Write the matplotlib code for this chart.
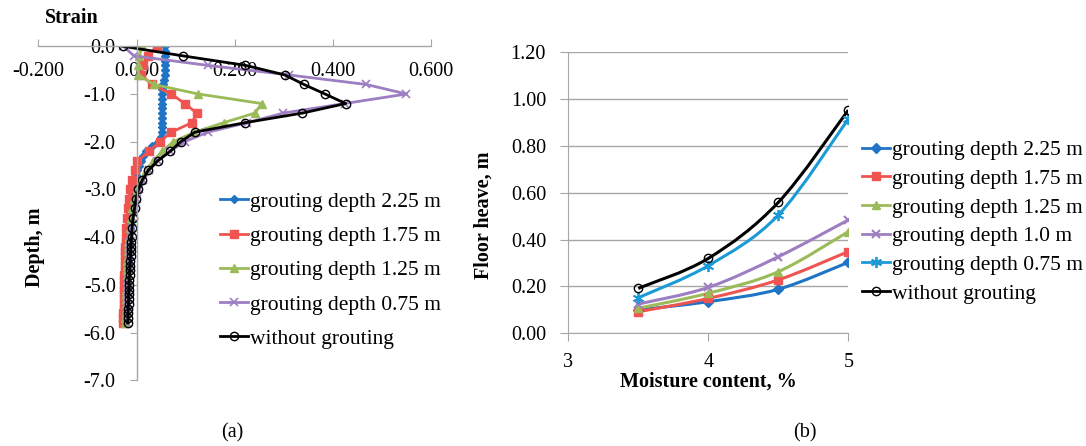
import numpy as np
import matplotlib.pyplot as plt
from matplotlib.path import Path
from matplotlib.patches import PathPatch
from matplotlib.lines import Line2D

plt.rcParams['font.family'] = ['Liberation Serif', 'DejaVu Serif']
plt.rcParams['font.size'] = 14.5

# ---- (a) strain profiles vs depth ----
depth = [0.0, -0.2, -0.4, -0.6, -0.8, -1.0, -1.2, -1.4, -1.6, -1.8, -2.0,
         -2.2, -2.4, -2.6, -2.8, -3.0, -3.2, -3.4, -3.6, -3.8, -4.0,
         -4.1, -4.2, -4.3, -4.4, -4.5, -4.6, -4.7, -4.8, -4.9, -5.0,
         -5.1, -5.2, -5.3, -5.4, -5.5, -5.6, -5.7, -5.8]
depth_fine = [round(-0.1 * i, 1) for i in range(59)]

strain_225 = [0.058, 0.058, 0.058, 0.058, 0.058, 0.058, 0.058, 0.056, 0.054,
              0.052, 0.052, 0.052, 0.052, 0.052, 0.052, 0.052, 0.052, 0.052, 0.052,
              0.049, 0.043, 0.031, 0.020, 0.014, 0.009, 0.005, 0.001, -0.002,
              -0.005, -0.007, -0.009,
              -0.010, -0.011, -0.011, -0.012, -0.012, -0.013, -0.013, -0.014,
              -0.014, -0.015, -0.015, -0.016, -0.016, -0.017, -0.017, -0.018,
              -0.018, -0.019, -0.019, -0.020, -0.020, -0.021, -0.021, -0.022,
              -0.022, -0.023, -0.023, -0.024]
strain_175 = [0.041, 0.024, 0.013, 0.010, 0.031, 0.071, 0.098, 0.123, 0.113,
              0.071, 0.047, 0.026, 0.002, -0.004, -0.010, -0.013, -0.016,
              -0.018, -0.020, -0.021, -0.022,
              -0.022, -0.023, -0.023, -0.023, -0.024, -0.024, -0.024, -0.025,
              -0.025, -0.025, -0.025, -0.026, -0.026, -0.026, -0.026, -0.027,
              -0.027, -0.027]
strain_125 = [0.011, 0.006, 0.003, 0.004, 0.035, 0.126, 0.255, 0.241, 0.178,
              0.118, 0.075, 0.052, 0.034, 0.020, 0.009, 0.001, -0.005, -0.009,
              -0.012, -0.014, -0.016,
              -0.017, -0.017, -0.018, -0.018, -0.019, -0.019, -0.019, -0.020,
              -0.020, -0.020, -0.021, -0.021, -0.021, -0.022, -0.022, -0.022,
              -0.023, -0.023]
strain_075 = [-0.027, -0.005, 0.145, 0.310, 0.468, 0.550, 0.424, 0.299, 0.226,
              0.145, 0.098, 0.068, 0.044, 0.026, 0.014, 0.006, 0.000, -0.004,
              -0.007, -0.010, -0.012,
              -0.013, -0.013, -0.014, -0.014, -0.015, -0.015, -0.016, -0.016,
              -0.017, -0.017, -0.017, -0.018, -0.018, -0.018, -0.019, -0.019,
              -0.019, -0.020]
strain_none = [-0.027, 0.094, 0.222, 0.302, 0.341, 0.384, 0.426, 0.338, 0.222,
               0.119, 0.090, 0.069, 0.043, 0.024, 0.012, 0.004, -0.001, -0.004,
               -0.007, -0.009, -0.010,
               -0.011, -0.011, -0.012, -0.012, -0.013, -0.013, -0.014, -0.014,
               -0.015, -0.015, -0.015, -0.016, -0.016, -0.016, -0.017, -0.017,
               -0.017, -0.018]

# ---- (b) floor heave vs moisture content ----
moisture = [3.5, 4.0, 4.5, 5.0]
heave_225 = [0.100, 0.135, 0.188, 0.303]
heave_175 = [0.092, 0.149, 0.228, 0.349]
heave_125 = [0.107, 0.171, 0.263, 0.434]
heave_100 = [0.125, 0.196, 0.327, 0.484]
heave_075 = [0.152, 0.289, 0.505, 0.915]
heave_none = [0.192, 0.320, 0.559, 0.953]

c_blue = '#1f74c6'
c_red = '#ef5450'
c_green = '#9bbb59'
c_purple = '#9d7ec2'
c_teal = '#1b9ad6'
c_black = '#000000'
c_axis = '#a6a6a6'

fig = plt.figure(figsize=(10.86, 4.46), dpi=100)

# panel (a)
ax1 = fig.add_axes([0.0353, 0.1475, 0.3616, 0.7487])
ax1.plot(strain_225, depth_fine, color=c_blue, lw=2, marker='D', ms=4,
         label='grouting depth 2.25 m')
ax1.plot(strain_175, depth, color=c_red, lw=2, marker='s', ms=6,
         label='grouting depth 1.75 m')
ax1.plot(strain_125, depth, color=c_green, lw=2, marker='^', ms=6,
         label='grouting depth 1.25 m')
ax1.plot(strain_075, depth, color=c_purple, lw=2, marker='x', ms=6, mew=1.2,
         label='grouting depth 0.75 m')
ax1.plot(strain_none, depth, color=c_black, lw=2, marker='o', ms=6,
         mfc='none', mew=1, label='without grouting')

ax1.set_xlim(-0.2, 0.6)
ax1.set_ylim(-7.0, 0.0)
ax1.spines['top'].set_visible(False)
ax1.spines['right'].set_visible(False)
ax1.spines['bottom'].set_position(('data', 0))
ax1.spines['left'].set_position(('data', 0))
for s in ('bottom', 'left'):
    ax1.spines[s].set_color(c_axis)
    ax1.spines[s].set_linewidth(1)
ax1.set_xticks([-0.2, 0.0, 0.2, 0.4, 0.6])
ax1.set_xticklabels(['-0.200', '0.000', '0.200', '0.400', '0.600'])
yt = np.arange(0, -7.5, -1.0)
ax1.set_yticks(yt)
ax1.set_yticklabels(['0.0'] + ['%.1f' % v for v in yt[1:]])
ax1.tick_params(axis='x', direction='in', length=5, color=c_axis, pad=11)
ax1.tick_params(axis='y', direction='out', length=5, color=c_axis, pad=10)
ax1.patch.set_visible(False)

ax1.legend(loc='upper left', bbox_to_anchor=(0.44, 0.59), frameon=False,
           handlelength=1.3, handletextpad=0.1, labelspacing=0.66,
           borderaxespad=0, fontsize=15.5)

fig.text(0.066, 0.96, 'Strain', fontweight='bold', ha='center', va='center',
         fontsize=14.5)
fig.text(0.032, 0.445, 'Depth, m', fontweight='bold', rotation=90,
         ha='center', va='center', fontsize=14.5)
fig.text(0.214, 0.03, '(a)', ha='center', va='center', fontsize=14.5)

# panel (b)
ax2 = fig.add_axes([0.5233, 0.2527, 0.2578, 0.630])


def smooth_path(xs, ys, t=1.0 / 6):
    # Catmull-Rom style bezier through the points
    xs = np.asarray(xs, float)
    ys = np.asarray(ys, float)
    n = len(xs)
    verts = [(xs[0], ys[0])]
    codes = [Path.MOVETO]
    for i in range(n - 1):
        p0 = np.array([xs[max(i - 1, 0)], ys[max(i - 1, 0)]])
        p1 = np.array([xs[i], ys[i]])
        p2 = np.array([xs[i + 1], ys[i + 1]])
        p3 = np.array([xs[min(i + 2, n - 1)], ys[min(i + 2, n - 1)]])
        c1 = p1 + (p2 - p0) * t
        c2 = p2 - (p3 - p1) * t
        verts += [tuple(c1), tuple(c2), tuple(p2)]
        codes += [Path.CURVE4] * 3
    return Path(verts, codes)


series_b = [
    (heave_225, c_blue, 'D', 5, 'grouting depth 2.25 m', {}),
    (heave_175, c_red, 's', 6, 'grouting depth 1.75 m', {}),
    (heave_125, c_green, '^', 6, 'grouting depth 1.25 m', {}),
    (heave_100, c_purple, 'x', 6, 'grouting depth 1.0 m', {'mew': 1.5}),
    (heave_075, c_teal, (6, 2, 0), 8, 'grouting depth 0.75 m', {'mew': 1.3}),
    (heave_none, c_black, 'o', 6, 'without grouting', {'mfc': 'none', 'mew': 1}),
]
handles = []
for vals, col, mk, ms, lab, kw in series_b:
    patch = PathPatch(smooth_path(moisture, vals), fc='none', ec=col, lw=2.2,
                      transform=ax2.transData, zorder=3)
    ax2.add_patch(patch)
    ax2.plot(moisture, vals, ls='none', color=col, marker=mk, ms=ms, zorder=4, **kw)
    handles.append(Line2D([], [], color=col, lw=2, marker=mk, ms=ms, label=lab, **kw))

ax2.set_xlim(3, 5)
ax2.set_ylim(0, 1.2)
ax2.set_xticks([3, 4, 5])
yt2 = np.arange(0, 1.21, 0.2)
ax2.set_yticks(yt2)
ax2.set_yticklabels(['%.2f' % v for v in yt2])
ax2.grid(axis='y', color=c_axis, lw=1)
ax2.set_axisbelow(True)
ax2.spines['top'].set_visible(False)
ax2.spines['right'].set_visible(False)
for s in ('bottom', 'left'):
    ax2.spines[s].set_color(c_axis)
ax2.tick_params(axis='both', direction='out', length=6, color=c_axis)
ax2.tick_params(axis='y', pad=10)
ax2.tick_params(axis='x', pad=8)
ax2.set_xlabel('Moisture content, %', fontweight='bold', labelpad=0)

fig.text(0.445, 0.518, 'Floor heave, m', fontweight='bold', rotation=90,
         ha='center', va='center', fontsize=14.5)

fig.legend(handles=handles, loc='upper left', bbox_to_anchor=(0.786, 0.705),
           frameon=False, handlelength=1.3, handletextpad=0.1,
           labelspacing=0.4, borderaxespad=0, fontsize=15.5)
fig.text(0.741, 0.03, '(b)', ha='center', va='center', fontsize=14.5)

fig.savefig('out.png', dpi=100)
